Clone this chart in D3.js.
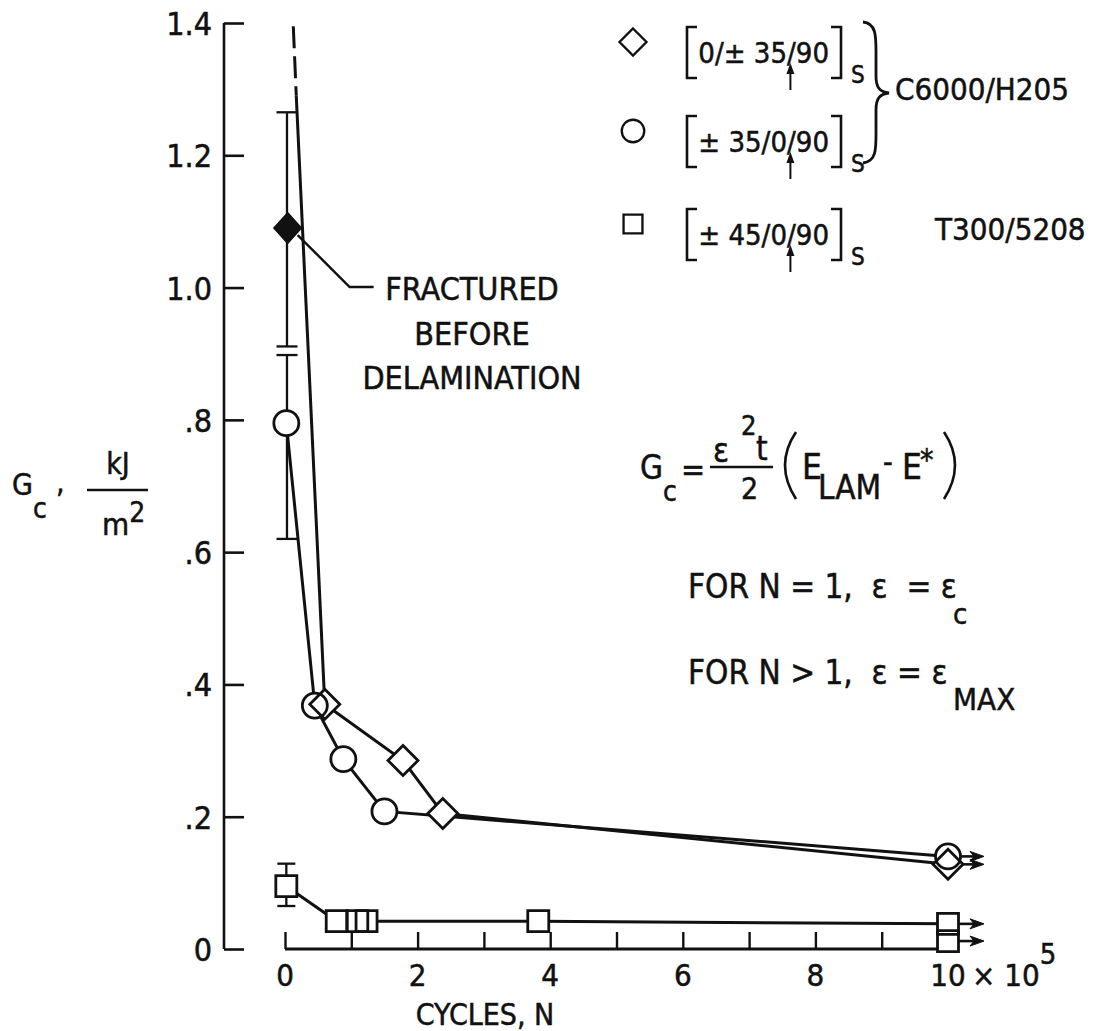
<!DOCTYPE html>
<html><head><meta charset="utf-8">
<script src="https://cdn.jsdelivr.net/npm/d3@7"></script>
<style>
html,body{margin:0;padding:0;background:#fff;}
svg{display:block;}
text{font-family:"DejaVu Sans Condensed","Liberation Sans Narrow","DejaVu Sans",sans-serif;font-stretch:condensed;fill:#111;stroke:#111;stroke-width:0.5px;}
</style></head><body>
<svg id="chart" width="1100" height="1031"></svg>
<script>
// ---- data ----
const xTickValues = [0,1,2,3,4,5,6,7,8,9,10];
const xTickLabels = ["0","","2","","4","","6","","8","","10"];
const yTickValues = [0,0.2,0.4,0.6,0.8,1.0,1.2,1.4];
const yTickLabels = ["0",".2",".4",".6",".8","1.0","1.2","1.4"];

const diamondN = [0.6, 1.78, 2.38, 10];
const diamondG = [0.37, 0.285, 0.205, 0.128];
const circleN  = [0.02, 0.45, 0.88, 1.5, 10];
const circleG  = [0.795, 0.368, 0.287, 0.208, 0.14];
const squareN  = [0.02, 0.78, 1.09, 1.23, 3.82, 10];
const squareG  = [0.095, 0.042, 0.042, 0.042, 0.042, 0.038];
const squareExtraN = [10];
const squareExtraG = [0.012];
const fracturedN = [0.04];
const fracturedG = [1.09];
const fractureLineN = [0.125, 0.17, 0.6];
const fractureLineG = [1.395, 1.29, 0.37];
const errorN    = [0.03, 0.03, 0.02];
const errorLow  = [0.911, 0.62, 0.065];
const errorHigh = [1.265, 0.898, 0.129];
const runoutN = [10, 10, 10, 10];
const runoutG = [0.14, 0.128, 0.038, 0.012];
const legendLabels = ["0/\u00b1 35/90", "\u00b1 35/0/90", "\u00b1 45/0/90"];
const legendShapes = ["diamond", "circle", "square"];
const materialLabels = ["C6000/H205", "T300/5208"];

// ---- drawing ----
const svg = d3.select("#chart");
const INK = "#111";
const x = d3.scaleLinear().domain([0, 10]).range([285, 948]);
const y = d3.scaleLinear().domain([0, 1.4]).range([949, 23]);

function shapePath(kind) {
  if (kind === "diamond") return "M0,-15L15,0L0,15L-15,0Z";
  if (kind === "square") return "M-10.5,-10.5H10.5V10.5H-10.5Z";
  return d3.arc()({innerRadius:0, outerRadius:12.5, startAngle:0, endAngle:2*Math.PI});
}

// Y axis
const yAxisX = 224;
const yAxis = svg.append("g").attr("transform", `translate(${yAxisX},0)`)
  .call(d3.axisRight(y).tickValues(yTickValues).tickSize(20).tickFormat(() => ""));
yAxis.select(".domain").attr("d", `M0,${y(1.4)}V${y(0)}`).attr("stroke", INK).attr("stroke-width", 2.6);
yAxis.selectAll(".tick line").attr("stroke", INK).attr("stroke-width", 2.6);
svg.append("g").selectAll("text").data(yTickValues).join("text")
  .attr("x", 212).attr("y", d => y(d) + 12).attr("text-anchor", "end")
  .attr("font-size", 32).text((d, i) => yTickLabels[i]);

// X axis
const xAxis = svg.append("g").attr("transform", `translate(0,${y(0)})`)
  .call(d3.axisTop(x).tickValues(xTickValues).tickSize(17).tickFormat(() => ""));
xAxis.select(".domain").attr("d", `M${x(0)},0H${x(10) + 6}`).attr("stroke", INK).attr("stroke-width", 2.8);
xAxis.selectAll(".tick line").attr("stroke", INK).attr("stroke-width", 2.4);
svg.append("g").selectAll("text").data(xTickValues.filter((d, i) => xTickLabels[i] !== "")).join("text")
  .attr("x", d => x(d)).attr("y", 986).attr("text-anchor", "middle")
  .attr("font-size", 31).text(d => xTickLabels[xTickValues.indexOf(d)]);
const xexp = svg.append("text").attr("x", x(10) + 24).attr("y", 986).attr("font-size", 31);
xexp.append("tspan").text("\u00d7 10");
xexp.append("tspan").attr("dy", -22).attr("font-size", 29).text("5");
svg.append("text").attr("x", 485).attr("y", 1025).attr("text-anchor", "middle")
  .attr("font-size", 30).text("CYCLES, N");

// Y label
svg.append("text").attr("x", 12).attr("y", 495).attr("font-size", 30).text("G");
svg.append("text").attr("x", 33).attr("y", 518).attr("font-size", 28).text("c");
svg.append("text").attr("x", 56).attr("y", 492).attr("font-size", 30).text(",");
svg.append("text").attr("x", 118).attr("y", 474).attr("text-anchor", "middle").attr("font-size", 30).text("kJ");
svg.append("line").attr("x1", 87).attr("x2", 148).attr("y1", 490).attr("y2", 490).attr("stroke", INK).attr("stroke-width", 2.4);
const m2 = svg.append("text").attr("x", 102).attr("y", 535).attr("font-size", 31);
m2.append("tspan").text("m");
m2.append("tspan").attr("dy", -13).attr("font-size", 28).text("2");

// Lines
const line = d3.line().x(d => x(d[0])).y(d => y(d[1]));
const linesG = svg.append("g").attr("fill", "none").attr("stroke", INK).attr("stroke-width", 3);
const zip = (a, b) => a.map((v, i) => [v, b[i]]);
linesG.append("path").attr("d", line(zip(diamondN, diamondG)));
linesG.append("path").attr("d", line(zip(circleN, circleG)));
linesG.append("path").attr("d", line(zip(squareN, squareG)));
const fr = zip(fractureLineN, fractureLineG);
linesG.append("path").attr("d", line(fr.slice(0, 2))).attr("stroke-dasharray", "22,8");
linesG.append("path").attr("d", line(fr.slice(1)));

// Error bars
const errG = svg.append("g").attr("stroke", INK).attr("stroke-width", 2.3).attr("fill", "none");
errorN.forEach((n, i) => {
  const cx = x(n);
  errG.append("line").attr("x1", cx).attr("x2", cx).attr("y1", y(errorLow[i])).attr("y2", y(errorHigh[i]));
  const hw = i === 2 ? 9 : 10.5;
  errG.append("line").attr("x1", cx - hw).attr("x2", cx + hw).attr("y1", y(errorLow[i])).attr("y2", y(errorLow[i]));
  errG.append("line").attr("x1", cx - hw).attr("x2", cx + hw).attr("y1", y(errorHigh[i])).attr("y2", y(errorHigh[i]));
});

// Runout arrows
const arrG = svg.append("g").attr("stroke", INK).attr("fill", INK);
runoutN.forEach((n, i) => {
  const x0 = x(n) + 9, x1 = x(n) + 36, yy = y(runoutG[i]);
  arrG.append("line").attr("x1", x0).attr("x2", x1 - 8).attr("y1", yy).attr("y2", yy).attr("stroke-width", 2.6);
  arrG.append("path").attr("d", `M${x1},${yy}L${x1 - 14},${yy - 5}L${x1 - 10},${yy}L${x1 - 14},${yy + 5}Z`).attr("stroke-width", 1);
});

// Markers: white fills first, then outlines
const pts = [];
diamondN.forEach((n, i) => pts.push({k: "diamond", n, g: diamondG[i]}));
circleN.forEach((n, i) => pts.push({k: "circle", n, g: circleG[i]}));
squareN.forEach((n, i) => pts.push({k: "square", n, g: squareG[i]}));
squareExtraN.forEach((n, i) => pts.push({k: "square", n, g: squareExtraG[i]}));
svg.append("g").selectAll("path").data(pts).join("path")
  .attr("d", d => shapePath(d.k)).attr("transform", d => `translate(${x(d.n)},${y(d.g)})`)
  .attr("fill", "#fff").attr("stroke", "none");
svg.append("g").selectAll("path").data(pts).join("path")
  .attr("d", d => shapePath(d.k)).attr("transform", d => `translate(${x(d.n)},${y(d.g)})`)
  .attr("fill", "none").attr("stroke", INK).attr("stroke-width", 2.8);
svg.append("g").selectAll("path").data(fracturedN).join("path")
  .attr("d", shapePath("diamond")).attr("transform", (d, i) => `translate(${x(d)},${y(fracturedG[i])}) scale(0.9,1)`)
  .attr("fill", INK).attr("stroke", INK).attr("stroke-width", 2);

// Annotation leader
const fx = x(fracturedN[0]), fy = y(fracturedG[0]);
svg.append("path").attr("d", `M${fx + 10},${fy + 7}L${fx + 62},${fy + 59}H${fx + 86}`)
  .attr("fill", "none").attr("stroke", INK).attr("stroke-width", 2.4);
[["FRACTURED", 300], ["BEFORE", 345], ["DELAMINATION", 389]].forEach(([t, yy]) => {
  svg.append("text").attr("x", 472).attr("y", yy).attr("text-anchor", "middle").attr("font-size", 32).text(t);
});

// Legend
const rowY = [52, 141, 234];
const legG = svg.append("g");
rowY.forEach((cy, i) => {
  legG.append("path").attr("d", shapePath(legendShapes[i])).attr("transform", `translate(633,${cy - 10}) scale(0.9)`)
    .attr("fill", "none").attr("stroke", INK).attr("stroke-width", 2.6);
  legG.append("path").attr("d", `M697,${cy - 25}H687V${cy + 26}H697M831,${cy - 25}H841V${cy + 26}H831`)
    .attr("fill", "none").attr("stroke", INK).attr("stroke-width", 2.6);
  const t = legG.append("text").attr("x", 829).attr("y", cy + 11).attr("text-anchor", "end").attr("font-size", 29).text(legendLabels[i]);
  legG.append("text").attr("x", 851).attr("y", cy + 31).attr("font-size", 24).text("S");
  const idx = legendLabels[i].lastIndexOf("/");
  const ext = t.node().getExtentOfChar(idx);
  const ax = ext.x + ext.width / 2 - 1;
  legG.append("line").attr("x1", ax).attr("x2", ax).attr("y1", cy + 38).attr("y2", cy + 18).attr("stroke", INK).attr("stroke-width", 2);
  legG.append("path").attr("d", `M${ax},${cy + 11}L${ax - 4},${cy + 22}L${ax + 4},${cy + 22}Z`).attr("fill", INK);
});
legG.append("path")
  .attr("d", "M863,22C877,23 876,38 876,56V76C876,88 880,92 889,93C880,94 876,98 876,110V130C876,148 877,161 863,163")
  .attr("fill", "none").attr("stroke", INK).attr("stroke-width", 2.8);
legG.append("text").attr("x", 895).attr("y", 100).attr("font-size", 31).text(materialLabels[0]);
legG.append("text").attr("x", 935).attr("y", 240).attr("font-size", 31).text(materialLabels[1]);

// Equation
const ex = 10;
const eq = svg.append("g").attr("transform", `translate(${ex},0)`);
const T = (xx, yy, s, fs) => eq.append("text").attr("x", xx).attr("y", yy).attr("font-size", fs).text(s);
T(630, 479, "G", 33);
T(653, 501, "c", 28);
T(671, 481, "=", 32);
T(703, 462, "\u03b5", 33);
T(731, 435, "2", 27);
T(746, 460, "t", 33);
eq.append("line").attr("x1", 700).attr("x2", 763).attr("y1", 467).attr("y2", 467).attr("stroke", INK).attr("stroke-width", 2.4);
T(731, 499, "2", 30);
eq.append("path").attr("d", "M786,432Q764,465 786,499M934,432Q956,465 934,499").attr("fill", "none").attr("stroke", INK).attr("stroke-width", 2.6);
T(792, 479, "E", 35);
T(808, 499, "LAM", 33);
T(873, 472, "-", 30);
T(892, 479, "E", 35);
T(910, 470, "*", 30);

// FOR lines
const F = (xx, yy, s, fs) => svg.append("text").attr("x", xx).attr("y", yy).attr("font-size", fs).text(s);
F(688, 598, "FOR N = 1,  \u03b5  = \u03b5", 33).attr("xml:space", "preserve");
F(953, 624, "c", 29);
F(688, 684, "FOR N > 1,  \u03b5 = \u03b5", 33).attr("xml:space", "preserve");
F(953, 710, "MAX", 31);
</script>
</body></html>
